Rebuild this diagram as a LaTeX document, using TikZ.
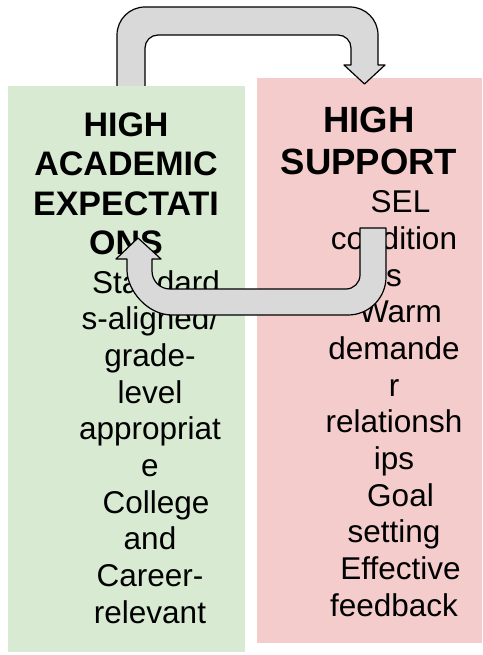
\documentclass[tikz,border=0pt]{standalone}
\usepackage{fontspec}
\setmainfont{Liberation Sans}
\usepackage{xcolor}
\definecolor{acadgreen}{HTML}{D9EAD3}
\definecolor{suppred}{HTML}{F4CCCC}
\definecolor{arrowgray}{HTML}{D9D9D9}

\begin{document}
\begin{tikzpicture}[x=1pt, y=-1pt,
    panel/.style={anchor=north west, inner sep=0pt, draw=none},
    heading/.style={anchor=north, inner sep=0pt, align=center},
    items/.style={anchor=north, inner sep=0pt, align=center,
        font=\fontsize{31.5}{36.7}\selectfont},
    blockarrow/.style={draw=black, line width=1.2pt, fill=arrowgray, line join=round}]

    % Frame
    \useasboundingbox (0,0) rectangle (482,655);

    % Right panel
    \node[panel, fill=suppred, minimum width=225pt, minimum height=565pt] (suppbox) at (257,78) {};

    % Arrow over the top
    \draw[blockarrow] (117,90) -- (117,35)
        .. controls (117,19.5) and (129.5,7) .. (145,7) -- (350,7)
        .. controls (365.5,7) and (378,19.5) .. (378,35) -- (378,65)
        -- (385,65) -- (364.5,84) -- (344,65) -- (351,65) -- (351,48)
        .. controls (351,40.8) and (345.2,35) .. (338,35) -- (158,35)
        .. controls (150.8,35) and (145,40.8) .. (145,48) -- (145,90) -- cycle;

    % Left panel
    \node[panel, fill=acadgreen, minimum width=237pt, minimum height=566pt] (acadbox) at (8,86) {};

    % Headings
    \node[heading, font=\fontsize{34}{39.3}\selectfont\bfseries] (acadhead) at (126,112.7) {HIGH\\ACADEMIC\\EXPECTATI\\ONS};
    \node[heading, font=\fontsize{36.5}{42}\selectfont\bfseries] (supphead) at (369,106.9) {HIGH\\SUPPORT};

    % Lists
    \node[items] (acadtext) at (150,270) {\hspace*{12pt}Standard\\s-aligned/\\grade-\\level\\appropriat\\e\\\hspace*{12pt}College\\and\\Career-\\relevant};
    \node[items] (supptext) at (394,190.4) {\hspace*{13pt}SEL\\condition\\s\\\hspace*{13pt}Warm\\demande\\r\\relationsh\\ips\\\hspace*{13pt}Goal\\setting\\\hspace*{13pt}Effective\\feedback};

    % Arrow back underneath
    \draw[blockarrow] (386,228) -- (386,277)
        .. controls (386,298) and (369,315) .. (348,315) -- (172,315)
        .. controls (147.1,315) and (127,290.1) .. (127,270) -- (127,259)
        -- (116,259) -- (138,238) -- (161,259) -- (152,259) -- (152,271)
        .. controls (152,281) and (160,289) .. (170,289) -- (346,289)
        .. controls (353.7,289) and (360,282.7) .. (360,275) -- (360,228) -- cycle;

\end{tikzpicture}
\end{document}
